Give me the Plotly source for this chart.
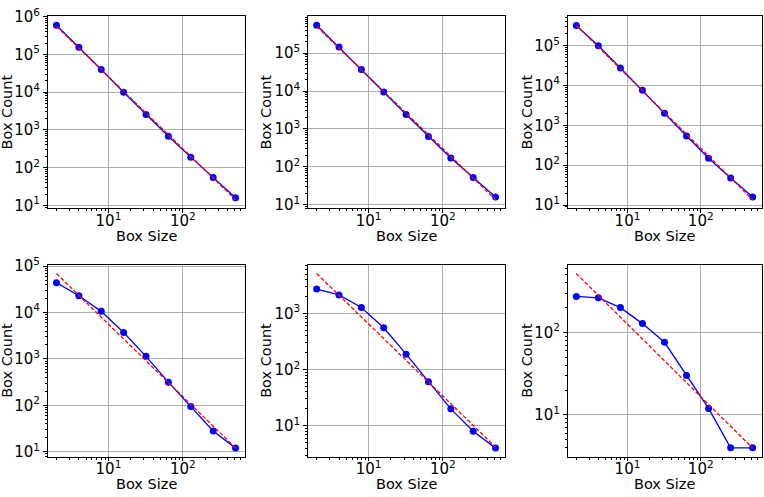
import numpy as np
import plotly.graph_objects as go
from plotly.subplots import make_subplots

# ---- data ----
box_sizes = [2, 4, 8, 16, 32, 64, 128, 256, 512]
counts_1 = [600000, 157000, 40000, 10000, 2570, 680, 190, 55, 16]
counts_2 = [550000, 145000, 37000, 9500, 2400, 630, 170, 52, 16]
counts_3 = [320000, 100000, 27500, 7600, 2000, 540, 150, 48, 16]
counts_4 = [44000, 23000, 10600, 3700, 1140, 316, 94, 28, 12]
counts_5 = [2720, 2140, 1280, 555, 188, 61, 20, 8, 4]
counts_6 = [273, 263, 200, 128, 76, 30, 12, 4, 4]
all_counts = [counts_1, counts_2, counts_3, counts_4, counts_5, counts_6]

major_exps = list(range(-1, 8))
major_vals = [10.0 ** k for k in major_exps]
major_text = [f"10<sup>{k}</sup>" for k in major_exps]
minor_vals = [m * 10.0 ** k for k in range(-1, 8) for m in range(2, 10)]

x_label = "Box Size"
y_label = "Box Count"

# ---- layout geometry (pixels) ----
W, H = 764, 497
col_px = [(47.5, 244.5), (307.7, 504.5), (567.5, 761.5)]
row_px = [(6.7, 205.0), (263.3, 461.7)]
xlabel_y_px = [234.0, 490.0]
ylabel_x_px = [7.0, 266.0, 527.0]

fig = make_subplots(rows=2, cols=3)

axis_common = dict(
    type="log",
    showline=True, mirror=True, linecolor="black", linewidth=1,
    ticks="outside", ticklen=3.5, tickwidth=1, tickcolor="black",
    showgrid=True, gridcolor="#a9b2b2", gridwidth=1,
    zeroline=False,
    tickmode="array", tickvals=major_vals, ticktext=major_text,
    tickfont=dict(family="DejaVu Sans", size=15, color="black"),
    minor=dict(tickmode="array", tickvals=minor_vals, ticks="outside",
               ticklen=2, tickwidth=0.8, tickcolor="black", showgrid=False),
)

lx = np.log10(np.array(box_sizes, dtype=float))
xpad = 0.05 * (lx.max() - lx.min())
xrange = [lx.min() - xpad, lx.max() + xpad]

annotations = []
for i, counts in enumerate(all_counts):
    r, c = divmod(i, 3)
    ly = np.log10(np.array(counts, dtype=float))
    slope, icpt = np.polyfit(lx, ly, 1)
    fit = 10 ** (icpt + slope * lx)

    fig.add_trace(go.Scatter(
        x=box_sizes, y=counts, mode="lines+markers",
        line=dict(color="#0000ff", width=1.3),
        marker=dict(color="#0000ff", size=7),
        showlegend=False), row=r + 1, col=c + 1)
    fig.add_trace(go.Scatter(
        x=box_sizes, y=fit, mode="lines",
        line=dict(color="#ff0000", width=1.3, dash="4px,2px"),
        showlegend=False), row=r + 1, col=c + 1)

    ally = np.concatenate([ly, np.log10(fit)])
    ypad = 0.05 * (ally.max() - ally.min())
    yrange = [ally.min() - ypad, ally.max() + ypad]

    n = "" if i == 0 else str(i + 1)
    x0, x1 = col_px[c]
    t, b = row_px[r]
    fig.update_layout({
        f"xaxis{n}": dict(axis_common, domain=[x0 / W, x1 / W], range=xrange,
                          ticklabelstandoff=-5),
        f"yaxis{n}": dict(axis_common, domain=[1 - b / H, 1 - t / H], range=yrange),
    })

    annotations.append(dict(
        text=x_label, xref="paper", yref="paper",
        x=(x0 + x1) / 2 / W, y=1 - xlabel_y_px[r] / H,
        xanchor="center", yanchor="middle", showarrow=False,
        font=dict(family="DejaVu Sans", size=14.5, color="black")))
    annotations.append(dict(
        text=y_label, xref="paper", yref="paper", textangle=-90,
        x=ylabel_x_px[c] / W, y=1 - (t + b) / 2 / H,
        xanchor="center", yanchor="middle", showarrow=False,
        font=dict(family="DejaVu Sans", size=14.5, color="black")))

fig.update_layout(
    width=W, height=H,
    margin=dict(l=0, r=0, t=0, b=0),
    paper_bgcolor="white", plot_bgcolor="white",
    annotations=annotations,
    showlegend=False,
)

fig.write_html("out.html")
